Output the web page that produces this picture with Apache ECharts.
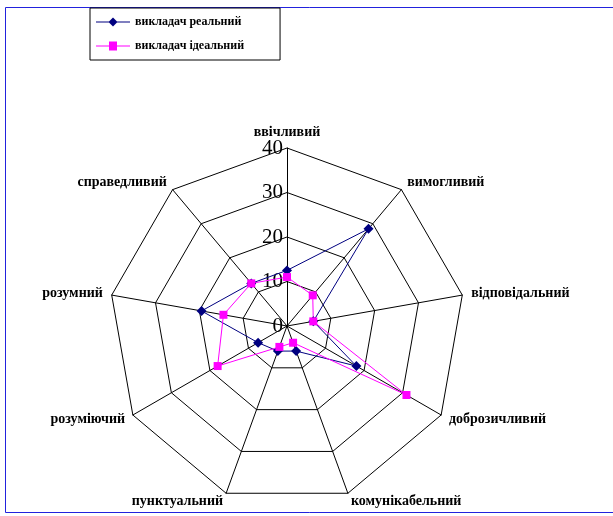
<!DOCTYPE html>
<html>
<head>
<meta charset="utf-8">
<script src="https://cdn.jsdelivr.net/npm/echarts@6/dist/echarts.min.js"></script>
<style>
  html, body { margin: 0; padding: 0; background: #fff; }
  #chart { width: 613px; height: 516px; }
</style>
</head>
<body>
<div id="chart"></div>
<script>
const categories = ['ввічливий', 'вимогливий', 'відповідальний', 'доброзичливий',
  'комунікабельний', 'пунктуальний', 'розуміючий', 'розумний', 'справедливий']
const realValues  = [12.5, 28.5, 6, 18, 6, 6, 7.5, 19.5, 12.5]
const idealValues = [11, 9, 6, 31, 4, 5, 18, 14.5, 12.5]
const seriesNames = ['викладач реальний', 'викладач ідеальний']
const axisMax = 40
const axisStep = 10

const CX = 287, CY = 326, R = 178
const SERIF = '"Liberation Serif", "DejaVu Serif", serif'

// echarts lays radar axes out counter-clockwise; keep the first one on top
// and reverse the rest so the categories run clockwise like the original
function clockwise(arr) { return [arr[0]].concat(arr.slice(1).reverse()) }

const ICON_DIAMOND = 'path://M0,4L13,4L17,0L21,4L34,4L34,5L21,5L17,9L13,5L0,5Z'
const ICON_SQUARE  = 'path://M0,4L13,4L13,0L21,0L21,4L34,4L34,5L21,5L21,9L13,9L13,5L0,5Z'

const chart = echarts.init(document.getElementById('chart'), null, { renderer: 'canvas' })

chart.setOption({
  backgroundColor: '#fff',
  animation: false,
  graphic: [{
    type: 'rect',
    shape: { x: 5.5, y: 7.5, width: 640, height: 505 },
    style: { fill: 'none', stroke: '#2222dd', lineWidth: 1 },
    z: -10,
  }],
  legend: {
    orient: 'vertical',
    left: 90, top: 8,
    padding: [8, 36, 8, 6],
    itemGap: 12,
    itemWidth: 34, itemHeight: 9,
    borderColor: '#000', borderWidth: 1,
    textStyle: { fontFamily: SERIF, fontSize: 12, fontWeight: 'bold', color: '#000' },
    data: [
      { name: seriesNames[0], icon: ICON_DIAMOND },
      { name: seriesNames[1], icon: ICON_SQUARE },
    ],
  },
  radar: {
    center: [CX, CY],
    radius: R,
    startAngle: 90,
    shape: 'polygon',
    splitNumber: axisMax / axisStep,
    indicator: clockwise(categories).map((c) => ({ name: c, min: 0, max: axisMax })),
    nameGap: 9,
    axisName: { color: '#000', fontFamily: SERIF, fontSize: 14, fontWeight: 'bold' },
    axisLine: { lineStyle: { color: '#000', width: 1 } },
    splitLine: { lineStyle: { color: '#000', width: 1 } },
    splitArea: { show: false },
    axisLabel: { show: false },
  },
  // tick labels along the top axis, drawn with a value scale aligned to it
  grid: { left: CX, top: CY - R, width: 1, height: R },
  xAxis: { type: 'value', show: false },
  yAxis: {
    type: 'value', min: 0, max: axisMax, interval: axisStep,
    axisLine: { show: false }, axisTick: { show: false }, splitLine: { show: false },
    axisLabel: { fontFamily: SERIF, fontSize: 21, color: '#000', margin: 4, padding: [4, 0, 0, 0] },
  },
  series: [{
    type: 'radar',
    data: [
      {
        name: seriesNames[0], value: clockwise(realValues), symbol: 'diamond', symbolSize: 10,
        lineStyle: { color: '#000080', width: 1 },
        itemStyle: { color: '#000080' },
      },
      {
        name: seriesNames[1], value: clockwise(idealValues), symbol: 'rect', symbolSize: 8,
        lineStyle: { color: '#ff00ff', width: 1 },
        itemStyle: { color: '#ff00ff' },
      },
    ],
  }],
})
</script>
</body>
</html>
